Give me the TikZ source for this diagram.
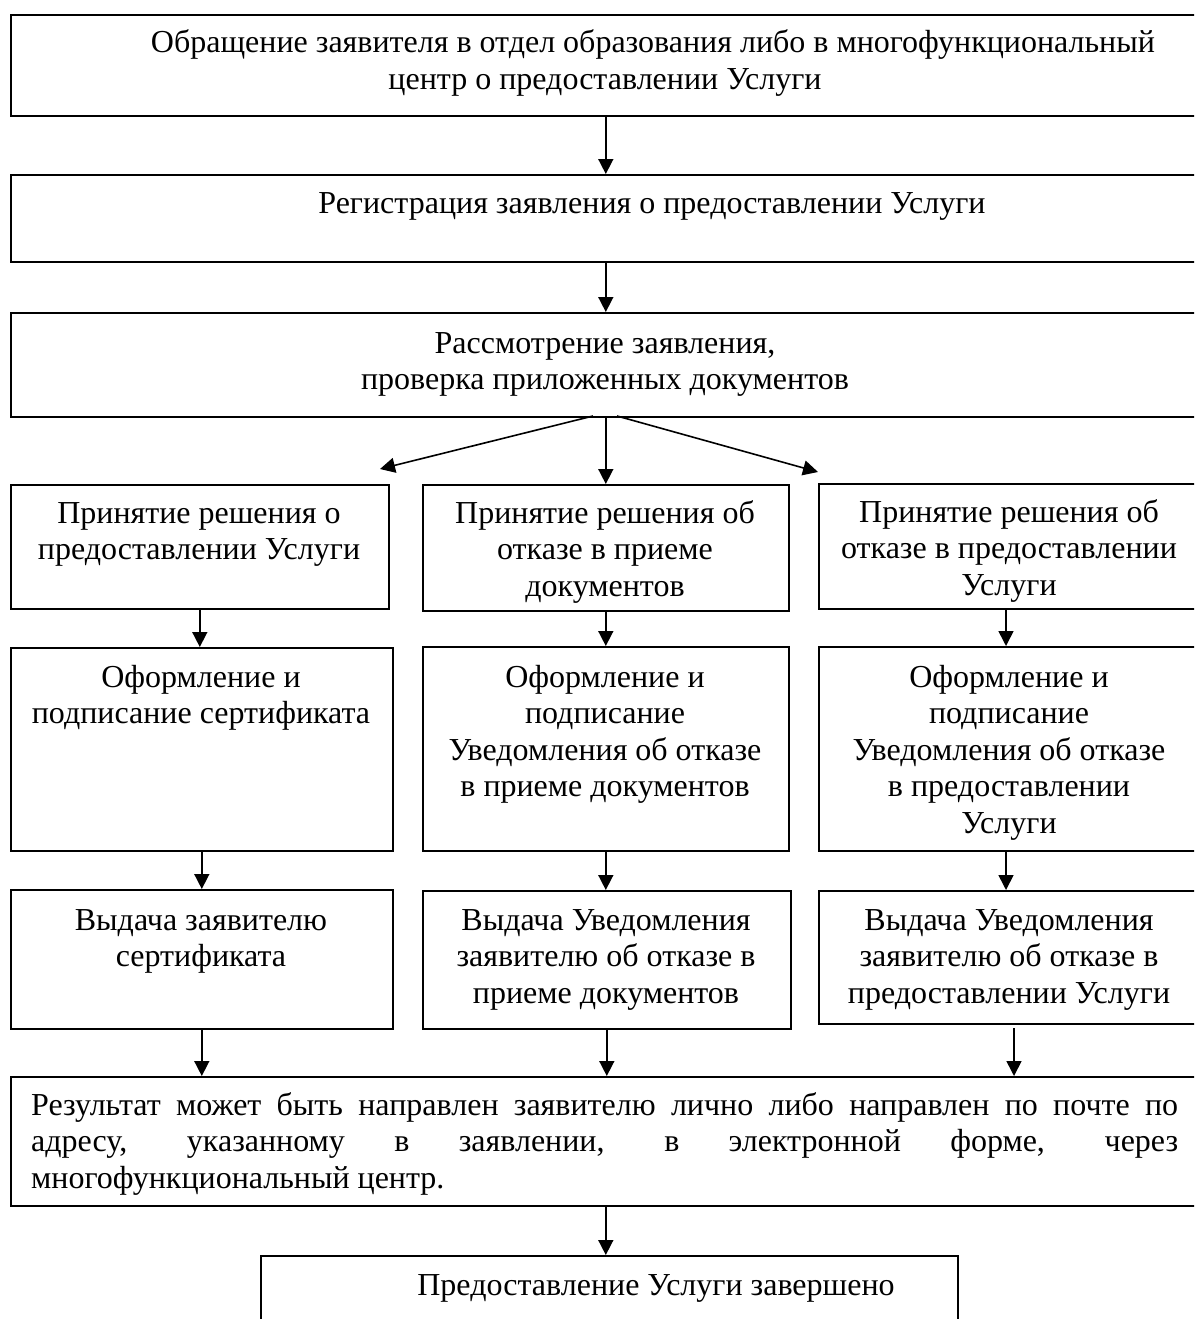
\documentclass[tikz,border=0pt]{standalone}
\usepackage{fontspec}
\setmainfont{Liberation Serif}
\usetikzlibrary{arrows.meta,calc}
\begin{document}
\begin{tikzpicture}[x=1pt,y=-1pt,
  box/.style={draw, line width=1.6pt, inner sep=0pt, anchor=north west},
  txt/.style={inner sep=0pt, align=center, anchor=base, font=\fontsize{32}{36.6}\selectfont},
  arr/.style={line width=1.6pt, -{Triangle[length=15pt,width=15pt]}}]
\useasboundingbox (0,0) rectangle (1194,1319);
\clip (0,0) rectangle (1194,1319);
\fill[white] (0,0) rectangle (1194,1319);
% boxes
\node[box, minimum width=1190pt, minimum height=101pt] (b1) at (10,14) {};
\node[box, minimum width=1190pt, minimum height=87pt] (b2) at (10,174) {};
\node[box, minimum width=1190pt, minimum height=104pt] (b3) at (10,312) {};
\node[box, minimum width=378pt, minimum height=124pt] (a1) at (10,484) {};
\node[box, minimum width=366pt, minimum height=126pt] (m1) at (422,484) {};
\node[box, minimum width=382pt, minimum height=125pt] (c1) at (818,483) {};
\node[box, minimum width=382pt, minimum height=203pt] (a2) at (10,647) {};
\node[box, minimum width=366pt, minimum height=204pt] (m2) at (422,646) {};
\node[box, minimum width=382pt, minimum height=204pt] (c2) at (818,646) {};
\node[box, minimum width=382pt, minimum height=139pt] (a3) at (10,889) {};
\node[box, minimum width=368pt, minimum height=138pt] (m3) at (422,890) {};
\node[box, minimum width=382pt, minimum height=133pt] (c3) at (818,890) {};
\node[box, minimum width=1190pt, minimum height=129pt] (r) at (10,1076) {};
\node[box, minimum width=697pt, minimum height=90pt] (f) at (260,1255) {};
% texts (anchor = baseline of the last line)
\node[txt] (t1) at (605,89.6) {\hspace*{96pt}Обращение заявителя в отдел образования либо в многофункциональный\\центр о предоставлении Услуги};
\node[txt] (t2) at (605,213) {\hspace*{94pt}Регистрация заявления о предоставлении Услуги};
\node[txt] (t3) at (605,389.6) {Рассмотрение заявления,\\проверка приложенных документов};
\node[txt] (ta1) at (199,559.6) {Принятие решения о\\предоставлении Услуги};
\node[txt] (tm1) at (605,596.2) {Принятие решения об\\отказе в приеме\\документов};
\node[txt] (tc1) at (1009,595.2) {Принятие решения об\\отказе в предоставлении\\Услуги};
\node[txt] (ta2) at (201,723.6) {Оформление и\\подписание сертификата};
\node[txt] (tm2) at (605,796.8) {Оформление и\\подписание\\Уведомления об отказе\\в приеме документов};
\node[txt] (tc2) at (1009,833.4) {Оформление и\\подписание\\Уведомления об отказе\\в предоставлении\\Услуги};
\node[txt] (ta3) at (201,966.6) {Выдача заявителю\\сертификата};
\node[txt] (tm3) at (606,1003.2) {Выдача Уведомления\\заявителю об отказе в\\приеме документов};
\node[txt] (tc3) at (1009,1003.2) {Выдача Уведомления\\заявителю об отказе в\\предоставлении Услуги};
\node[txt, anchor=base west, align=left] (tr) at (31,1188.2) {\makebox[1147pt][s]{Результат может быть направлен заявителю лично либо направлен по почте по}\\\makebox[1147pt][s]{адресу, указанному в заявлении, в электронной форме, через}\\многофункциональный центр.};
\node[txt] (tf) at (608,1295) {\hspace*{96pt}Предоставление Услуги завершено};
% connectors
\coordinate (dl) at (380,469);
\coordinate (dr) at (818,472);
\coordinate (dls) at (593,416);
\coordinate (drs) at (617,416);
\coordinate (c1out) at (1006,608);
\coordinate (c2out) at (1006,850);
\coordinate (c3out) at (1014,1028);
\draw[arr] (b1.south) -- (b2.north);
\draw[arr] (b2.south) -- (b3.north);
\draw[arr] (dls) -- (dl);
\draw[arr] (b3.south) -- (b3.south |- m1.north);
\draw[arr] (drs) -- (dr);
\draw[arr] (a1.south) -- (a1.south |- a2.north);
\draw[arr] (m1.south) -- (m1.south |- m2.north);
\draw[arr] (c1out) -- (c1out |- c2.north);
\draw[arr] (a2.south) -- (a2.south |- a3.north);
\draw[arr] (m2.south) -- (m2.south |- m3.north);
\draw[arr] (c2out) -- (c2out |- c3.north);
\draw[arr] (a3.south) -- (a3.south |- r.north);
\draw[arr] (m3.south) -- (m3.south |- r.north);
\draw[arr] (c3out) -- (c3out |- r.north);
\draw[arr] (r.south) -- (r.south |- f.north);
\end{tikzpicture}
\end{document}
